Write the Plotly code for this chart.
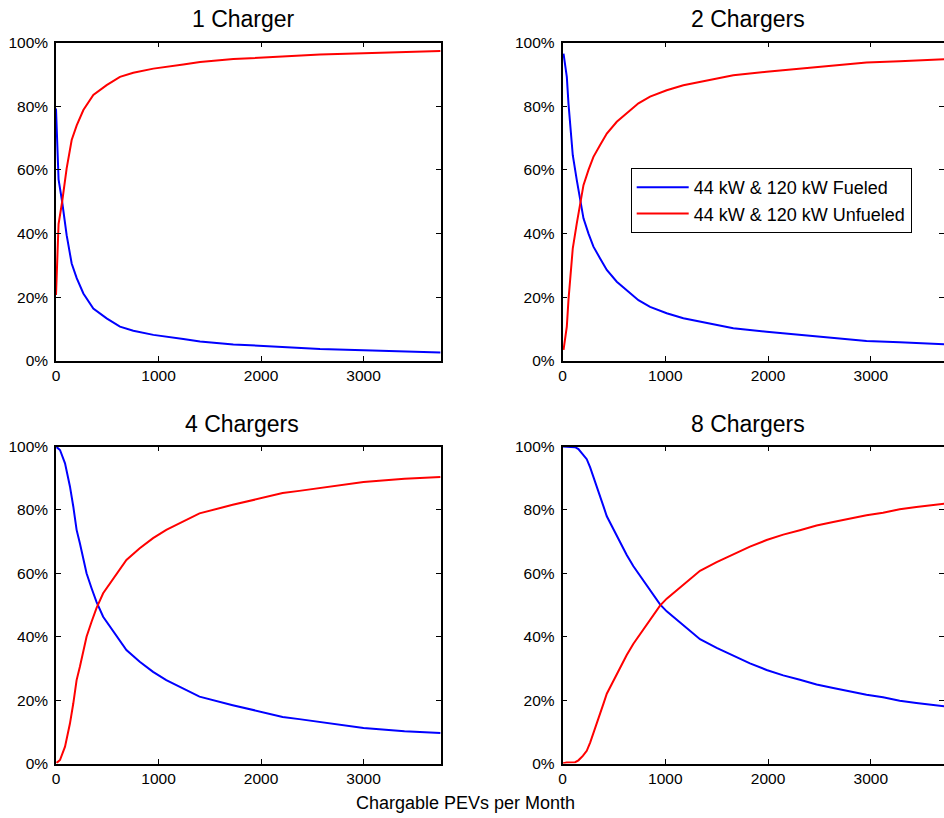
import plotly.graph_objects as go

# ---------------- data ----------------
titles = ["1 Charger", "2 Chargers", "4 Chargers", "8 Chargers"]
series_names = ["44 kW & 120 kW Fueled", "44 kW & 120 kW Unfueled"]
x_ticks = [0, 1000, 2000, 3000]
y_ticks = [0, 20, 40, 60, 80, 100]
y_tick_labels = ["0%", "20%", "40%", "60%", "80%", "100%"]
x_title = "Chargable PEVs per Month"

pevs_1 = [0, 25, 60, 104, 153, 202, 267, 364, 494, 624, 754, 950, 1242, 1405, 1730, 2055, 2576, 3000, 3400, 3750]
fueled_1 = [79.3, 57.0, 50.0, 39.5, 30.6, 26.0, 21.2, 16.5, 13.4, 10.8, 9.5, 8.2, 6.9, 6.1, 5.2, 4.7, 3.8, 3.4, 3.0, 2.7]
unfueled_1 = [20.7, 43.0, 50.0, 60.5, 69.4, 74.0, 78.8, 83.5, 86.6, 89.2, 90.5, 91.8, 93.1, 93.9, 94.8, 95.3, 96.2, 96.6, 97.0, 97.3]

pevs_2 = [10, 42, 58, 81, 100, 139, 172, 204, 253, 301, 366, 431, 528, 625, 739, 852, 1014, 1176, 1338, 1662, 1986, 2310, 2634, 2958, 3281, 3709, 3750]
fueled_2 = [96.5, 89.2, 80.9, 71.4, 64.6, 56.8, 50.5, 44.8, 40.0, 35.9, 32.2, 28.6, 24.9, 22.3, 19.1, 17.0, 15.0, 13.4, 12.3, 10.3, 9.2, 8.2, 7.1, 6.3, 5.9, 5.3, 5.2]
unfueled_2 = [3.5, 10.8, 19.1, 28.6, 35.4, 43.2, 49.5, 55.2, 60.0, 64.1, 67.8, 71.4, 75.1, 77.7, 80.9, 83.0, 85.0, 86.6, 87.7, 89.7, 90.8, 91.8, 92.9, 93.7, 94.1, 94.7, 94.8]

pevs_4 = [6, 39, 88, 136, 169, 201, 233, 266, 298, 347, 395, 460, 558, 687, 817, 947, 1076, 1238, 1400, 1724, 2049, 2211, 2373, 2567, 3000, 3400, 3750]
fueled_4 = [99.8, 98.9, 94.7, 87.4, 81.0, 73.7, 69.5, 64.2, 60.0, 55.3, 51.0, 46.3, 41.6, 35.8, 32.1, 28.9, 26.3, 23.7, 21.1, 18.4, 15.8, 14.7, 14.0, 13.2, 11.2, 10.2, 9.6]
unfueled_4 = [0.2, 1.1, 5.3, 12.6, 19.0, 26.3, 30.5, 35.8, 40.0, 44.7, 49.0, 53.7, 58.4, 64.2, 67.9, 71.1, 73.7, 76.3, 78.9, 81.6, 84.2, 85.3, 86.0, 86.8, 88.8, 89.8, 90.4]

pevs_8 = [0, 40, 123, 155, 198, 236, 269, 301, 334, 366, 398, 431, 496, 560, 625, 690, 755, 852, 949, 1014, 1079, 1176, 1273, 1338, 1500, 1662, 1824, 1986, 2148, 2310, 2472, 2634, 2796, 2958, 3119, 3281, 3443, 3709, 3750]
fueled_8 = [100.0, 100.0, 99.8, 99.2, 97.6, 96.0, 93.4, 90.2, 87.6, 84.4, 81.2, 78.0, 73.8, 69.6, 65.8, 62.2, 59.1, 54.7, 50.2, 48.0, 46.2, 43.5, 41.0, 39.2, 36.5, 34.0, 31.6, 29.5, 27.8, 26.4, 24.9, 23.8, 22.7, 21.7, 20.9, 19.8, 19.1, 18.1, 17.9]
unfueled_8 = [0.0, 0.3, 0.4, 1.0, 2.4, 4.0, 6.6, 9.8, 12.4, 15.6, 18.8, 22.0, 26.2, 30.4, 34.2, 37.8, 40.9, 45.3, 49.8, 52.0, 53.8, 56.5, 59.0, 60.8, 63.5, 66.0, 68.4, 70.5, 72.2, 73.6, 75.1, 76.2, 77.3, 78.3, 79.1, 80.2, 80.9, 81.9, 82.1]

panels = [
    (pevs_1, fueled_1, unfueled_1),
    (pevs_2, fueled_2, unfueled_2),
    (pevs_4, fueled_4, unfueled_4),
    (pevs_8, fueled_8, unfueled_8),
]

# ---------------- layout geometry (pixels) ----------------
W, H = 944, 818
FONT = "Arial, 'Liberation Sans', Helvetica, sans-serif"
colors = ["#0000FF", "#FF0000"]

# panel boxes: (left, right, top, bottom) in px
boxes = [
    (56, 441, 42.5, 361),
    (562.5, 944, 42.5, 361),
    (56, 441, 446.5, 763.5),
    (562.5, 944, 446.5, 763.5),
]
x_max = [3756, 3712, 3756, 3712]
title_cx = [243.5, 748, 242, 748]
title_cy = [18.5, 18.5, 423.5, 423.5]

fig = go.Figure()
for i, (xs, fu, un) in enumerate(panels):
    ax = "" if i == 0 else str(i + 1)
    for j, ys in enumerate([fu, un]):
        fig.add_trace(go.Scatter(
            x=xs, y=ys, mode="lines",
            line=dict(color=colors[j], width=2),
            name=series_names[j],
            showlegend=(i == 1),
            legendrank=j,
            xaxis="x" + ax, yaxis="y" + ax,
        ))
    l, r, t, b = boxes[i]
    axis_common = dict(
        showline=True, linecolor="black", linewidth=1.5, mirror="ticks",
        ticks="inside", ticklen=5, tickwidth=1, tickcolor="black",
        showgrid=False, zeroline=False, automargin=False,
        tickfont=dict(family=FONT, size=15.5, color="#000000"),
        fixedrange=True,
    )
    fig.update_layout(**{
        "xaxis" + ax: dict(
            domain=[l / W, r / W], range=[0, x_max[i]],
            tickvals=x_ticks, ticktext=[str(v) for v in x_ticks],
            anchor="y" + ax, ticklabelstandoff=0, **axis_common),
        "yaxis" + ax: dict(
            domain=[1 - b / H, 1 - t / H], range=[0, 100],
            tickvals=y_ticks, ticktext=y_tick_labels,
            anchor="x" + ax, ticklabelstandoff=3, **axis_common),
    })
    fig.add_annotation(
        text=titles[i], xref="paper", yref="paper",
        x=title_cx[i] / W, y=1 - title_cy[i] / H,
        xanchor="center", yanchor="middle", showarrow=False,
        font=dict(family=FONT, size=23, color="#000000"),
    )

fig.add_annotation(
    text=x_title, xref="paper", yref="paper",
    x=465.5 / W, y=1 - 803 / H, xanchor="center", yanchor="middle",
    showarrow=False, font=dict(family=FONT, size=18, color="#000000"),
)

fig.update_layout(
    template="none",
    width=W, height=H,
    margin=dict(l=0, r=0, t=0, b=0, pad=0, autoexpand=False),
    paper_bgcolor="white", plot_bgcolor="white",
    legend=dict(
        x=630.7 / W, y=1 - 168 / H, xanchor="left", yanchor="top",
        bgcolor="white", bordercolor="black", borderwidth=1,
        font=dict(family=FONT, size=18, color="#000000"),
        itemwidth=52, tracegroupgap=0,
    ),
    font=dict(family=FONT, color="#000000"),
)

fig.write_html(
    "out.html",
    config={"displayModeBar": False},
    post_script="document.body.style.margin='0';document.body.style.overflow='hidden';",
)
